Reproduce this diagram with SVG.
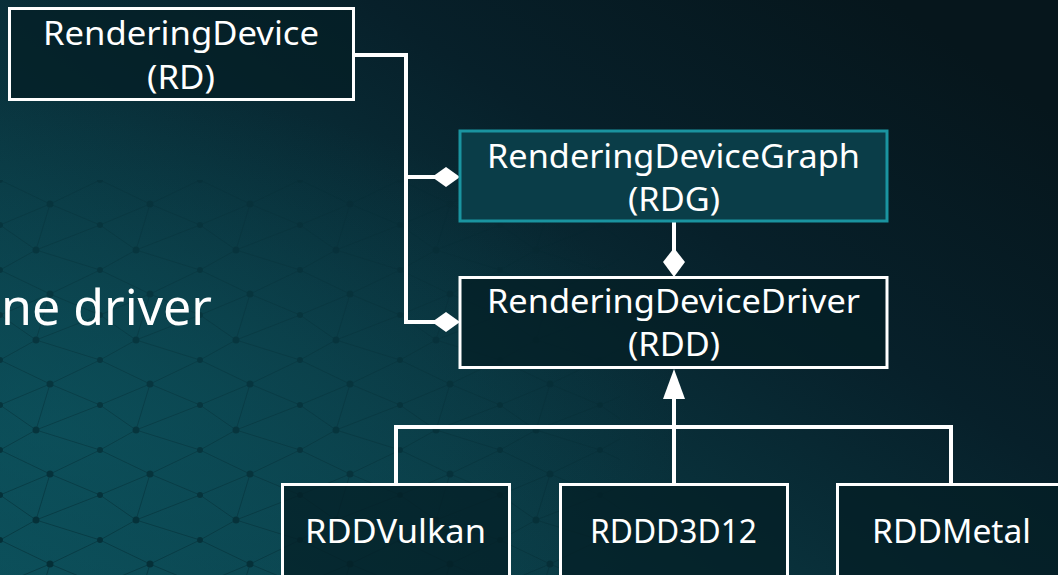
<svg xmlns="http://www.w3.org/2000/svg" width="1058" height="575" viewBox="0 0 1058 575">
  <defs>
    <linearGradient id="bg" x1="0" y1="1" x2="1" y2="0.2">
      <stop offset="0" stop-color="#0b4c57"/>
      <stop offset="0.35" stop-color="#0a3842"/>
      <stop offset="0.7" stop-color="#07202a"/>
      <stop offset="1" stop-color="#06161c"/>
    </linearGradient>
    <radialGradient id="glow" cx="0.05" cy="0.75" r="0.6">
      <stop offset="0" stop-color="#0d5560" stop-opacity="0.6"/>
      <stop offset="1" stop-color="#0d5560" stop-opacity="0"/>
    </radialGradient>
    <linearGradient id="fade" x1="0" y1="1" x2="0.8" y2="0">
      <stop offset="0" stop-color="#fff" stop-opacity="0.8"/>
      <stop offset="0.6" stop-color="#fff" stop-opacity="0.2"/>
      <stop offset="1" stop-color="#fff" stop-opacity="0"/>
    </linearGradient>
    <pattern id="net" width="100" height="90" patternUnits="userSpaceOnUse">
      <g stroke="#03262d" stroke-width="1" fill="none" opacity="0.6">
        <path d="M0 0 L50 24 L100 0 M50 24 L36 70 L0 90 M36 70 L100 90 M50 24 L100 45 L36 70 M0 45 L50 24 M0 45 L36 70"/>
      </g>
      <g fill="#03262d">
        <circle cx="50" cy="24" r="3.5"/>
        <circle cx="36" cy="70" r="3.5"/>
        <circle cx="0" cy="45" r="3"/>
        <circle cx="100" cy="45" r="3"/>
        <circle cx="0" cy="0" r="3"/>
        <circle cx="100" cy="0" r="3"/>
        <circle cx="0" cy="90" r="3"/>
        <circle cx="100" cy="90" r="3"/>
      </g>
    </pattern>
    <mask id="netmask">
      <rect width="1058" height="575" fill="url(#fade)"/>
    </mask>
    <style>
      .box { fill: #041f26; fill-opacity: 0.75; stroke: #ffffff; stroke-width: 3; }
      .hl { fill: #0a3d48; stroke: #1a94a0; stroke-width: 3; }
      .lbl { font-family: "Noto Sans", "Open Sans", sans-serif; font-size: 32px; fill: #ffffff; }
      .big { font-family: "Noto Sans", "Open Sans", sans-serif; font-size: 50px; fill: #ffffff; }
      .wire { stroke: #ffffff; stroke-width: 4; fill: none; }
      .head { fill: #ffffff; }
    </style>
  </defs>

  <rect width="1058" height="575" fill="url(#bg)"/>
  <rect width="1058" height="575" fill="url(#glow)"/>
  <rect x="0" y="180" width="620" height="395" fill="url(#net)" mask="url(#netmask)"/>

  <text class="big" x="1" y="325" textLength="211" lengthAdjust="spacingAndGlyphs">ne driver</text>

  <g id="connectors">
    <polyline class="wire" points="353,55 406,55 406,322 440,322"/>
    <line class="wire" x1="406" y1="177" x2="440" y2="177"/>
    <polygon class="head" points="432,177 446,167 460,177 446,187"/>
    <polygon class="head" points="432,322 446,312 460,322 446,332"/>
    <line class="wire" x1="674" y1="222" x2="674" y2="255"/>
    <polygon class="head" points="674,248 685,262 674,277 663,262"/>
    <polyline class="wire" points="396,483 396,427 951,427 951,483"/>
    <line class="wire" x1="674" y1="483" x2="674" y2="392"/>
    <polygon class="head" points="674,369 685,399 663,399"/>
  </g>

  <g id="rd">
    <rect class="box" x="9.5" y="8.5" width="344" height="91"/>
    <text class="lbl" x="43" y="45" textLength="276" lengthAdjust="spacingAndGlyphs">RenderingDevice</text>
    <text class="lbl" x="147" y="89" textLength="68" lengthAdjust="spacingAndGlyphs">(RD)</text>
  </g>

  <g id="rdg">
    <rect class="hl" x="460" y="131" width="427" height="90"/>
    <text class="lbl" x="487" y="168" textLength="373" lengthAdjust="spacingAndGlyphs">RenderingDeviceGraph</text>
    <text class="lbl" x="628" y="211" textLength="92" lengthAdjust="spacingAndGlyphs">(RDG)</text>
  </g>

  <g id="rdd">
    <rect class="box" x="460" y="277.5" width="427" height="90"/>
    <text class="lbl" x="487" y="313" textLength="373" lengthAdjust="spacingAndGlyphs">RenderingDeviceDriver</text>
    <text class="lbl" x="628" y="356" textLength="92" lengthAdjust="spacingAndGlyphs">(RDD)</text>
  </g>

  <g id="rddvulkan">
    <rect class="box" x="282.5" y="484.5" width="227" height="100"/>
    <text class="lbl" x="305" y="543" textLength="181" lengthAdjust="spacingAndGlyphs">RDDVulkan</text>
  </g>

  <g id="rddd3d12">
    <rect class="box" x="560.5" y="484.5" width="227" height="100"/>
    <text class="lbl" x="590" y="543" textLength="167" lengthAdjust="spacingAndGlyphs">RDDD3D12</text>
  </g>

  <g id="rddmetal">
    <rect class="box" x="837.5" y="484.5" width="227" height="100"/>
    <text class="lbl" x="872" y="543" textLength="159" lengthAdjust="spacingAndGlyphs">RDDMetal</text>
  </g>
</svg>
